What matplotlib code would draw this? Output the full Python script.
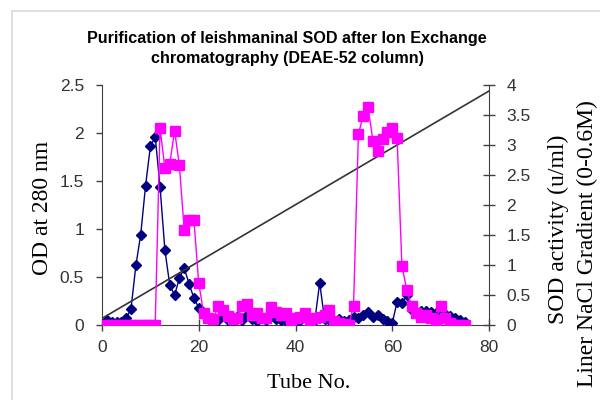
import matplotlib
matplotlib.use("Agg")
import matplotlib.pyplot as plt
from matplotlib.patches import Rectangle

# data
tubes = list(range(1, 76))
od_280 = [0.05, 0.03, 0.03, 0.03, 0.07, 0.17, 0.62, 0.94, 1.45, 1.86,
          1.96, 1.44, 0.78, 0.42, 0.31, 0.49, 0.59, 0.43, 0.28, 0.18,
          0.12, 0.08, 0.06, 0.05, 0.09, 0.05, 0.04, 0.08, 0.05, 0.10,
          0.06, 0.04, 0.07, 0.05, 0.09, 0.06, 0.05, 0.04, 0.07, 0.04,
          0.05, 0.08, 0.04, 0.05, 0.44, 0.06, 0.05, 0.04, 0.06, 0.04,
          0.05, 0.08, 0.07, 0.10, 0.14, 0.08, 0.10, 0.06, 0.04, 0.02,
          0.24, 0.23, 0.31, 0.16, 0.14, 0.15, 0.15, 0.14, 0.13, 0.14,
          0.11, 0.09, 0.07, 0.05, 0.03]
sod_activity = [0, 0, 0, 0, 0, 0, 0, 0, 0, 0,
                0, 3.29, 2.61, 2.68, 3.24, 2.66, 1.58, 1.75, 1.75, 0.70,
                0.20, 0.12, 0.10, 0.31, 0.25, 0.15, 0.10, 0.12, 0.31, 0.35,
                0.17, 0.20, 0.11, 0.12, 0.30, 0.22, 0.17, 0.20, 0.08, 0.11,
                0.14, 0.20, 0.07, 0.12, 0.14, 0.17, 0.25, 0.06, 0.04, 0.02,
                0.0, 0.32, 3.18, 3.49, 3.63, 3.07, 2.90, 3.10, 3.21, 3.28,
                3.12, 0.98, 0.59, 0.31, 0.20, 0.14, 0.17, 0.11, 0.08, 0.31,
                0.11, 0.03, 0.0, 0.0, 0.0]
gradient_tubes = [0, 80]
gradient_level = [0.11, 3.9]

fig = plt.figure(figsize=(6, 4), dpi=100)

# light chart-area border like the spreadsheet export
fig.patches.append(Rectangle((12 / 600, -0.1), 1.2, 1 - 11 / 400 + 0.1,
                             transform=fig.transFigure, fill=False,
                             edgecolor='#d9d9d9', linewidth=1.2))

ax = fig.add_axes([102 / 600, 75 / 400, 387 / 600, 240 / 400])
ax2 = ax.twinx()

ax.plot(tubes, od_280, color='#000080', marker='D', markersize=5.5,
        linewidth=1, zorder=3)
ax2.plot(gradient_tubes, gradient_level, color='#333333', linewidth=1.2, zorder=1)
ax2.plot(tubes, sod_activity, color='#ff00ff', marker='s', markersize=6.5,
         linewidth=1, zorder=3)

ax.set_xlim(0, 80)
ax.set_ylim(0, 2.5)
ax2.set_ylim(0, 4)
ax.set_xticks([0, 20, 40, 60, 80])
ax.set_yticks([0, 0.5, 1, 1.5, 2, 2.5])
ax.set_yticklabels(['0', '0.5', '1', '1.5', '2', '2.5'])
ax2.set_yticks([0, 0.5, 1, 1.5, 2, 2.5, 3, 3.5, 4])
ax2.set_yticklabels(['0', '0.5', '1', '1.5', '2', '2.5', '3', '3.5', '4'])

for a in (ax, ax2):
    a.spines['top'].set_visible(False)
    for s in a.spines.values():
        s.set_color('#404040')
ax.spines['right'].set_visible(False)
ax2.spines['left'].set_visible(False)
ax2.spines['bottom'].set_visible(False)

ax.tick_params(axis='x', direction='inout', length=8, width=1, color='#404040', pad=7)
ax.tick_params(axis='y', direction='out', length=4, width=1, color='#404040', pad=9)
ax2.tick_params(axis='y', direction='inout', length=9, width=1, color='#404040', pad=8)
for lab in ax.get_xticklabels() + ax.get_yticklabels() + ax2.get_yticklabels():
    lab.set_fontfamily('Liberation Sans')
    lab.set_fontsize(12.5)
    lab.set_color('#333333')

fig.text(287 / 600, 1 - 48.5 / 400,
         'Purification of leishmaninal SOD after Ion Exchange\nchromatography (DEAE-52 column)',
         ha='center', va='center', fontfamily='Liberation Sans', fontweight='bold',
         fontsize=11.6, linespacing=1.4)

serif = 'Liberation Serif'
fig.text(43 / 600, 1 - 208 / 400, 'OD at 280 nm', rotation=90, ha='center',
         va='center', fontfamily=serif, fontsize=17)
fig.text(309 / 600, 1 - 384 / 400, 'Tube No.', ha='center', va='center',
         fontfamily=serif, fontsize=16)
fig.text(558 / 600, 1 - 229 / 400, 'SOD activity (u/ml)', rotation=90,
         ha='center', va='center', fontfamily=serif, fontsize=17)
fig.text(587 / 600, 1 - 244 / 400, 'Liner NaCl Gradient (0-0.6M)', rotation=90,
         ha='center', va='center', fontfamily=serif, fontsize=17)

fig.savefig('out.png', dpi=100)
